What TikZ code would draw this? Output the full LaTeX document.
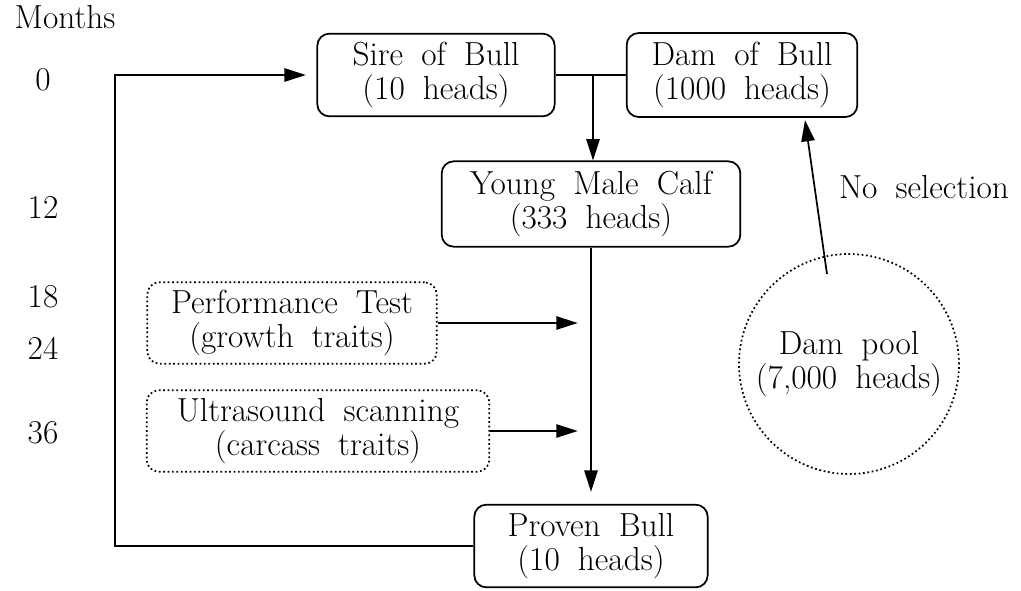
\documentclass[tikz,border=0pt]{standalone}
\usepackage{fontspec}
\setmainfont{Latin Modern Roman}[WordSpace=1.8]
\usetikzlibrary{arrows.meta}

\begin{document}
\begin{tikzpicture}[x=0.75pt,y=-0.75pt,
		every node/.style={font=\fontsize{25}{26}\selectfont},
		box/.style={draw,rounded corners=9pt,line width=1.3pt,align=center,inner sep=0pt},
		testbox/.style={box,dotted},
		arr/.style={line width=1.3pt,-{Triangle[length=16pt,width=10pt]}}]

		\useasboundingbox (0,0) rectangle (1021,590);

		\node (months) at (65,17) {Months};
		\foreach \m/\y in {0/80,12/207,18/297,24/348,36/433}
			\node (m\m) at (43,\y) {\m};

		\node[box,minimum width=178pt,minimum height=62pt] (sire) at (436,75) {Sire of Bull\\(10 heads)};
		\node[box,minimum width=173pt,minimum height=63pt] (dam) at (742,75) {Dam of Bull\\(1000 heads)};
		\node[box,minimum width=224pt,minimum height=64pt] (calf) at (591,204) {Young Male Calf\\(333 heads)};
		\node[testbox,minimum width=217pt,minimum height=61pt] (perf) at (292,323) {Performance Test\\(growth traits)};
		\node[testbox,minimum width=257pt,minimum height=61pt] (ultra) at (318,431) {Ultrasound scanning\\(carcass traits)};
		\node[box,minimum width=175pt,minimum height=62pt] (proven) at (591,546) {Proven Bull\\(10 heads)};
		\node[draw,circle,dotted,line width=1.3pt,minimum size=165pt,align=center] (pool) at (849,364) {Dam pool\\(7,000 heads)};
		\node (nosel) at (924,187) {No selection};

		\coordinate (j) at (593,75);
		\coordinate (back) at (115,75);
		\coordinate (ns) at (827,274);
		\coordinate (nt) at (805,120);

		\draw[line width=1.3pt] (sire) -- (dam);
		\draw[arr] (j) -- (j |- calf.north);

		\draw[arr,shorten >=9pt] (calf) -- (proven);

		\draw[arr,shorten >=10pt] (perf) -- (perf -| calf);
		\draw[arr,shorten >=10pt] (ultra) -- (ultra -| calf);

		\draw[arr,shorten >=8pt] (proven.west) -| (back) -- (sire.west);

		\draw[arr] (ns) -- (nt);

	\end{tikzpicture}
\end{document}
